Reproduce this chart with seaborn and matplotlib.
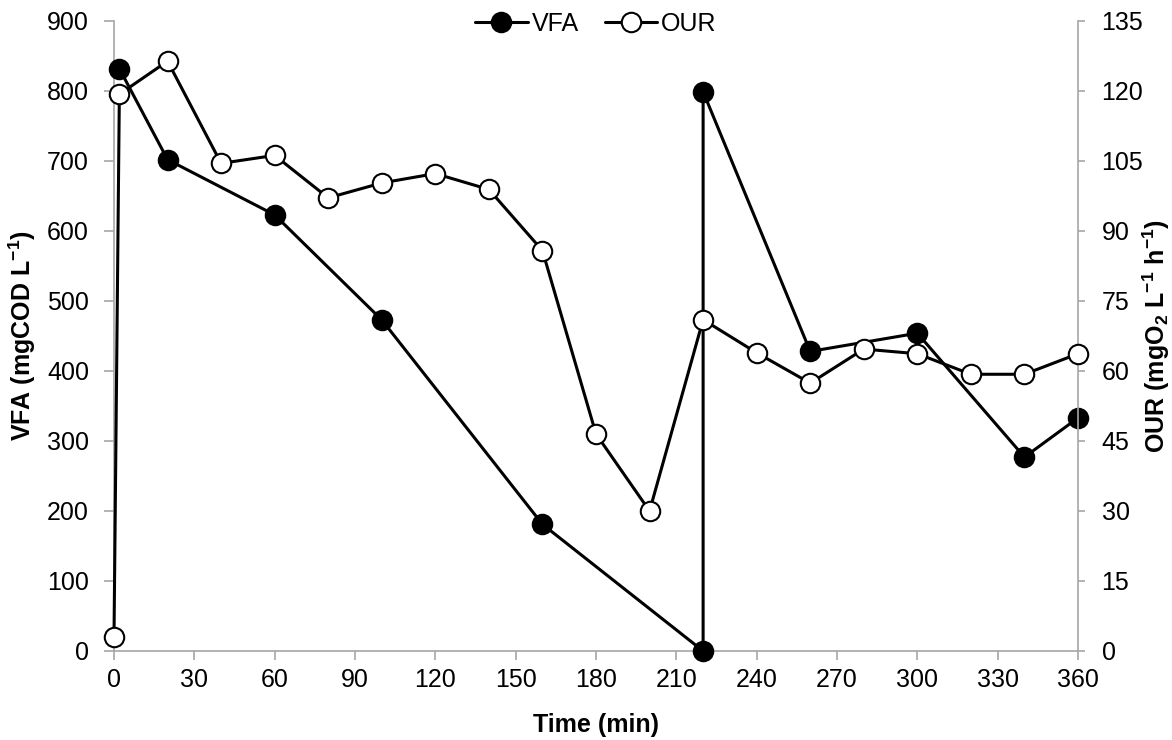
import numpy as np
import pandas as pd
import seaborn as sns
from matplotlib import pyplot as plt

# Datos
vfa_time = [2, 20, 60, 100, 160, 220, 220, 260, 300, 340, 360]
vfa_value = [832, 702, 623, 473, 181, 0, 799, 428, 454, 277, 333]

our_time = [0, 2, 20, 40, 60, 80, 100, 120, 140, 160, 180, 200, 220,
            240, 260, 280, 300, 320, 340, 360]
our_value = [3, 119.3, 126.4, 104.5, 106.2, 97.1, 100.3, 102.3, 98.9, 85.8,
             46.5, 30, 71, 63.9, 57.4, 64.7, 63.7, 59.3, 59.3, 63.7]

x_ticks = np.arange(0, 361, 30)
vfa_ticks = np.arange(0, 901, 100)
our_ticks = np.arange(0, 136, 15)

vfa_df = pd.DataFrame({'time': vfa_time, 'VFA': vfa_value})
our_df = pd.DataFrame({'time': our_time, 'OUR': our_value})

sns.set_style("white")
plt.rcParams['font.family'] = ['Liberation Sans', 'DejaVu Sans']
plt.rcParams['mathtext.fontset'] = 'custom'
plt.rcParams['mathtext.rm'] = 'Liberation Sans'
plt.rcParams['mathtext.bf'] = 'Liberation Sans:bold'
plt.rcParams['text.color'] = 'black'
plt.rcParams['axes.labelcolor'] = 'black'

fig = plt.figure(figsize=(11.72, 7.4), dpi=100)
ax = fig.add_axes([114 / 1172, 89 / 740, 964 / 1172, 630 / 740])
ax2 = ax.twinx()

line_kw = dict(color='black', linewidth=2.2, marker='o', markersize=14,
               markeredgecolor='black', markeredgewidth=1.5,
               estimator=None, sort=False, clip_on=False)

sns.lineplot(data=vfa_df, x='time', y='VFA', ax=ax, label='VFA',
             markerfacecolor='black', zorder=3, **line_kw)
sns.lineplot(data=our_df, x='time', y='OUR', ax=ax2, label='OUR',
             markerfacecolor='white', zorder=3, **line_kw)

ax.set_xlim(0, 360)
ax.set_ylim(0, 900)
ax2.set_ylim(0, 135)
ax.set_xticks(x_ticks)
ax.set_yticks(vfa_ticks)
ax2.set_yticks(our_ticks)

spine_col = '#a6a6a6'
for a in (ax, ax2):
    for s in a.spines.values():
        s.set_color(spine_col)
        s.set_linewidth(1.2)
    a.spines['top'].set_visible(False)
ax.spines['right'].set_visible(False)
ax2.spines['left'].set_visible(False)
ax2.spines['bottom'].set_visible(False)

ax.tick_params(axis='y', direction='out', length=7, width=1.2,
               color=spine_col, labelcolor='black', labelsize=18, pad=11,
               left=True)
ax.tick_params(axis='x', direction='out', length=6.5, width=1.2,
               color=spine_col, labelcolor='black', labelsize=18, pad=6,
               bottom=True)
ax2.tick_params(axis='y', direction='out', length=5, width=1.2,
                color=spine_col, labelcolor='black', labelsize=18, pad=12,
                right=True)

ax.set_xlabel('Time (min)', fontsize=18, fontweight='bold', labelpad=15)
ax.set_ylabel(r'VFA (mgCOD L$^{\mathbf{-1}}$)', fontsize=18,
              fontweight='bold')
ax2.set_ylabel(r'OUR (mgO$_{\mathbf{2}}$ L$^{\mathbf{-1}}$ h$^{\mathbf{-1}}$)',
               fontsize=18, fontweight='bold')
ax.yaxis.set_label_coords((38 - 114) / 964, 0.5)
ax2.yaxis.set_label_coords((1141 - 114) / 964, 0.5)

if ax.get_legend():
    ax.get_legend().remove()
if ax2.get_legend():
    ax2.get_legend().remove()
handles = [ax.get_lines()[0], ax2.get_lines()[0]]
ax2.legend(handles=handles, labels=['VFA', 'OUR'], loc='center',
           bbox_to_anchor=(0.5, 0.995), ncol=2, frameon=False, fontsize=18,
           handlelength=2.1, handletextpad=0.16, columnspacing=1.04,
           borderaxespad=0, borderpad=0)

plt.savefig('out.png', dpi=100)
